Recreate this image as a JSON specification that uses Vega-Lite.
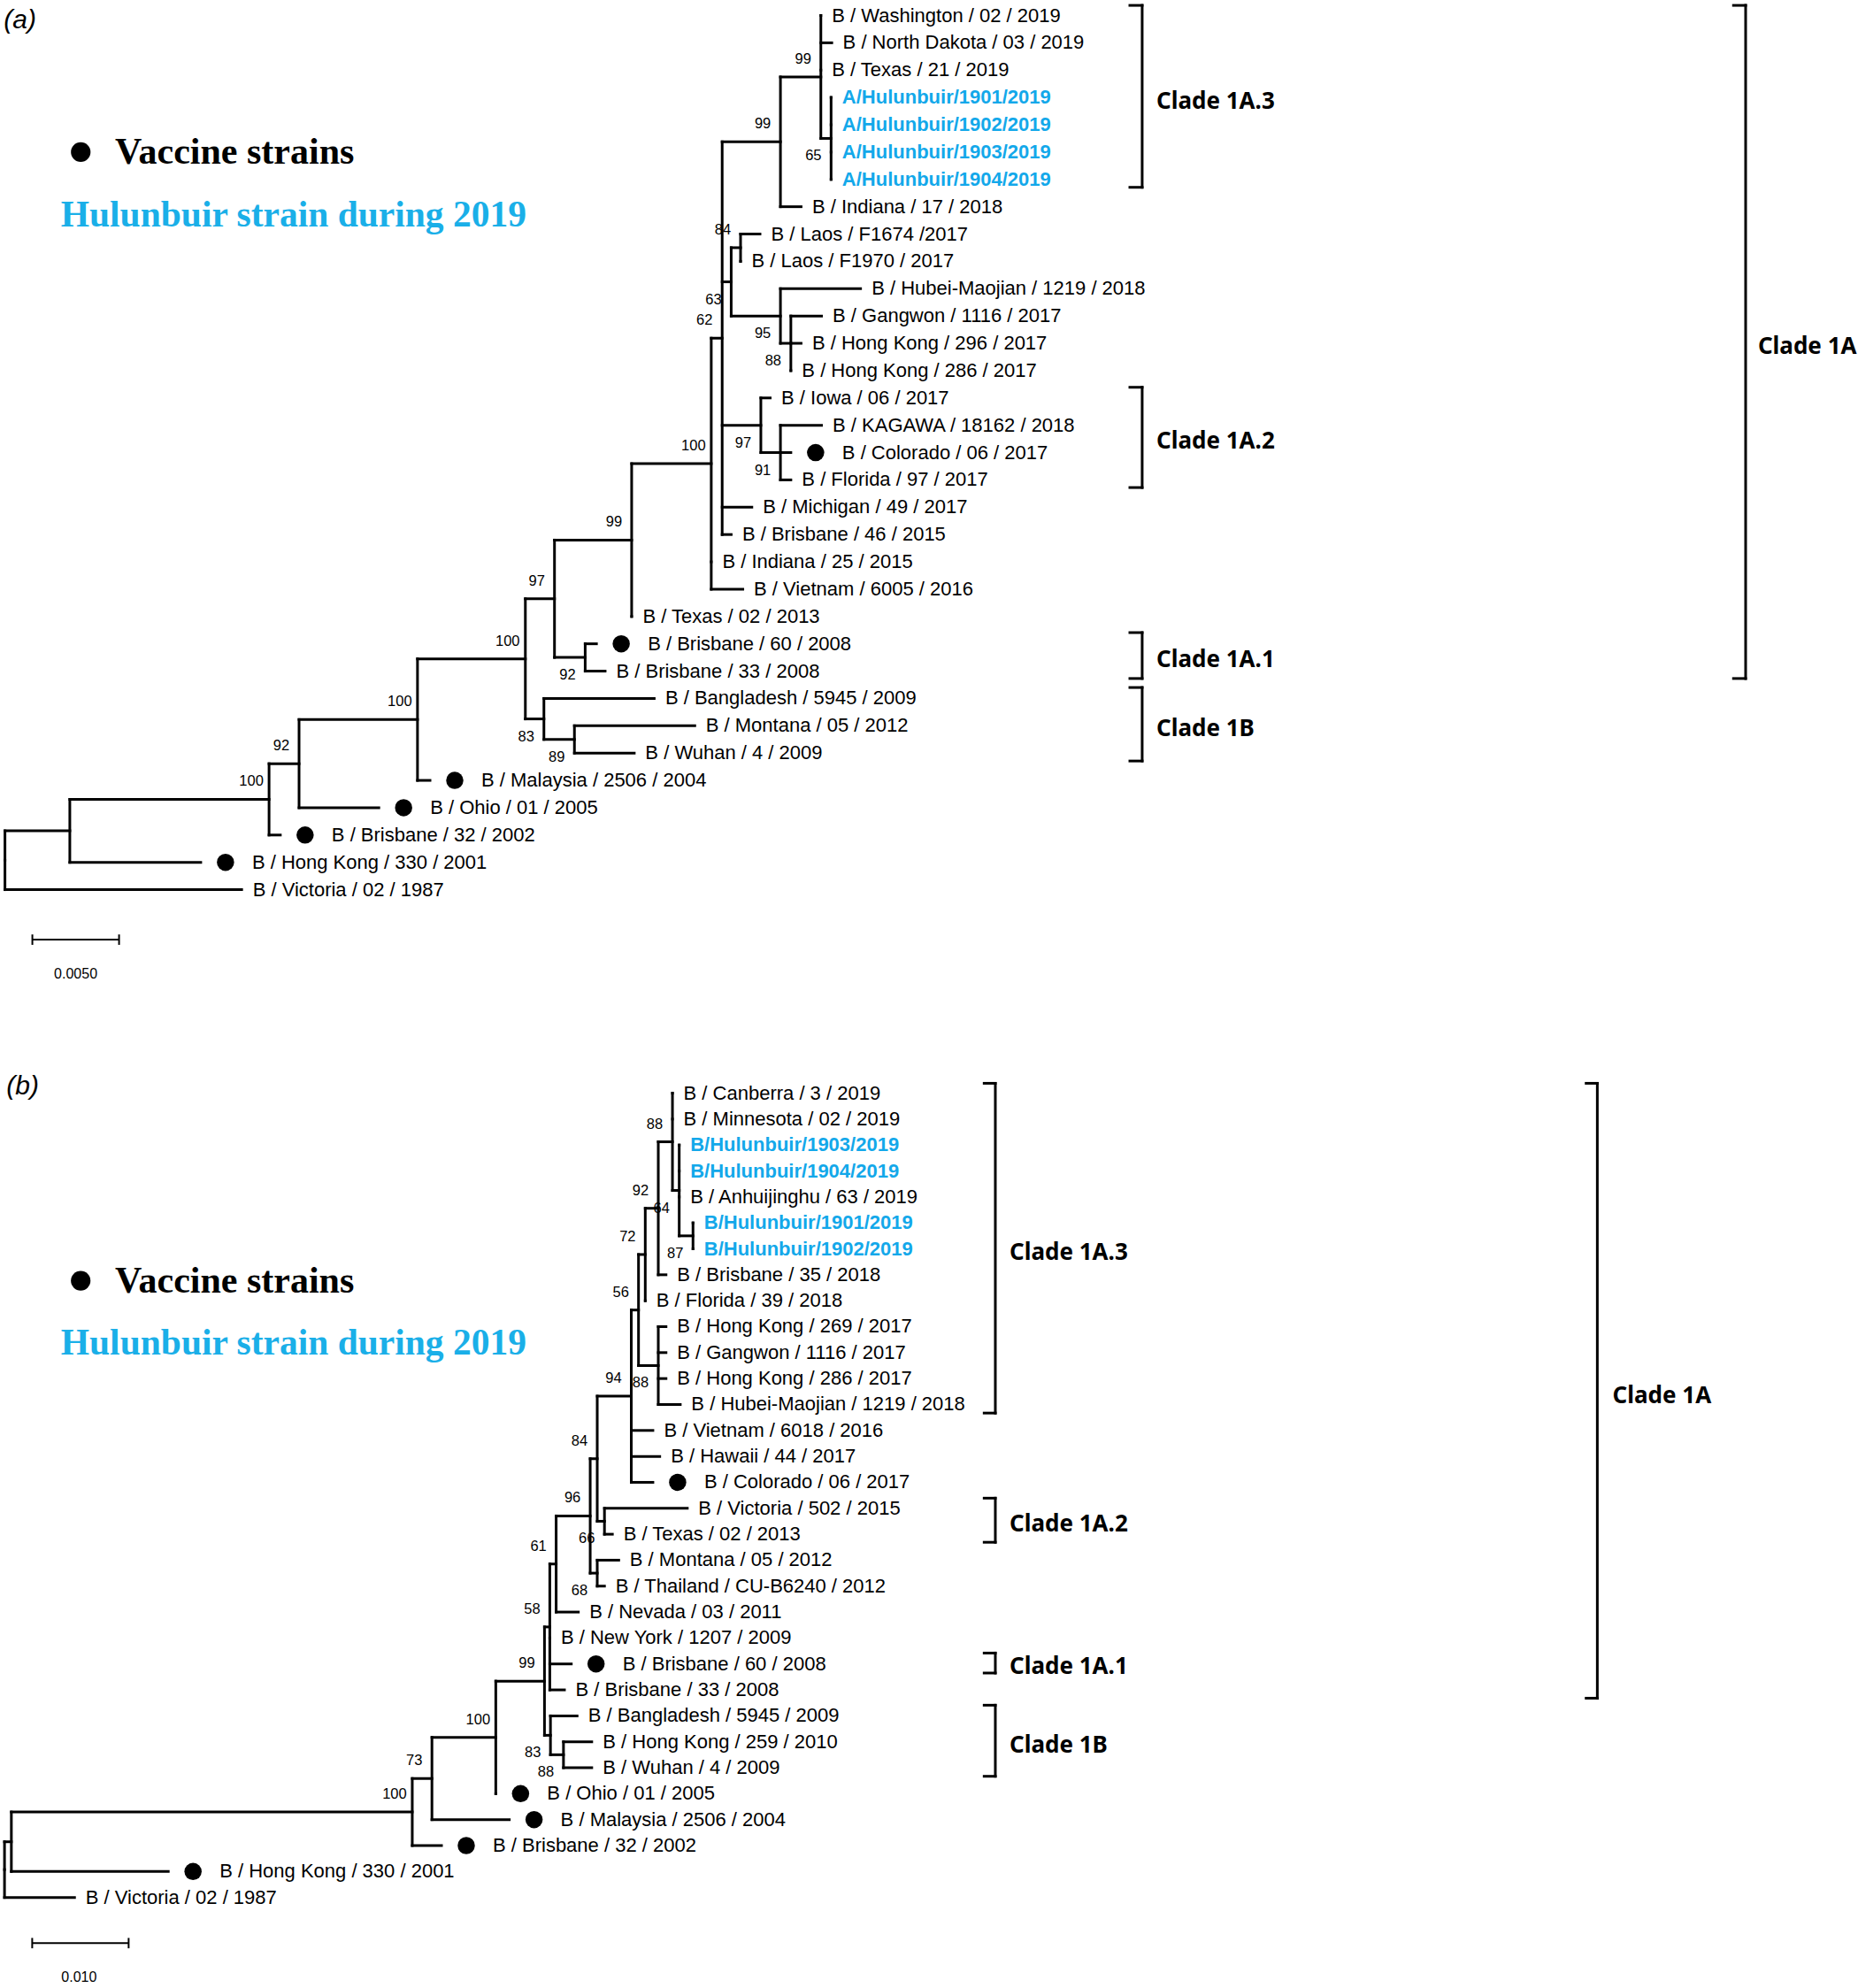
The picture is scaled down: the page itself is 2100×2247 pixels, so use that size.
{
"$schema": "https://vega.github.io/schema/vega-lite/v6.json",
"padding": 0,
"spacing": 0,
"bounds": "flush",
"background": "white",
"config": {"view": {"stroke": null}},
"datasets": {
"nodes": [
{"panel":"a","px":0,"d":0,"y":30.92,"y1":29.847,"y2":32,"boot":"","side":"none"},
{"panel":"a","px":0,"d":3.74,"y":29.847,"y1":28.694,"y2":31,"boot":"","side":"none"},
{"panel":"a","px":3.74,"d":15.23,"y":28.694,"y1":27.388,"y2":30,"boot":"100","side":"above"},
{"panel":"a","px":15.23,"d":16.96,"y":27.388,"y1":25.775,"y2":29,"boot":"92","side":"above"},
{"panel":"a","px":16.96,"d":23.79,"y":25.775,"y1":23.551,"y2":28,"boot":"100","side":"above"},
{"panel":"a","px":23.79,"d":30.01,"y":23.551,"y1":21.352,"y2":25.75,"boot":"100","side":"above"},
{"panel":"a","px":30.01,"d":31.08,"y":25.75,"y1":25,"y2":26.5,"boot":"83","side":"below"},
{"panel":"a","px":31.08,"d":32.84,"y":26.5,"y1":26,"y2":27,"boot":"89","side":"below"},
{"panel":"a","px":30.01,"d":31.69,"y":21.352,"y1":19.203,"y2":23.5,"boot":"97","side":"above"},
{"panel":"a","px":31.69,"d":33.46,"y":23.5,"y1":23,"y2":24,"boot":"92","side":"below"},
{"panel":"a","px":31.69,"d":36.14,"y":19.203,"y1":16.406,"y2":22,"boot":"99","side":"above"},
{"panel":"a","px":36.14,"d":40.73,"y":16.406,"y1":11.8125,"y2":21,"boot":"100","side":"above"},
{"panel":"a","px":40.73,"d":41.36,"y":11.8125,"y1":4.625,"y2":19,"boot":"62","side":"above"},
{"panel":"a","px":41.36,"d":44.72,"y":4.625,"y1":2.25,"y2":7,"boot":"99","side":"above"},
{"panel":"a","px":44.72,"d":47.05,"y":2.25,"y1":0,"y2":4.5,"boot":"99","side":"above"},
{"panel":"a","px":47.05,"d":47.64,"y":4.5,"y1":3,"y2":6,"boot":"65","side":"below"},
{"panel":"a","px":41.36,"d":41.88,"y":9.75,"y1":8.5,"y2":11,"boot":"63","side":"below"},
{"panel":"a","px":41.88,"d":42.42,"y":8.5,"y1":8,"y2":9,"boot":"84","side":"above"},
{"panel":"a","px":41.88,"d":44.72,"y":11,"y1":10,"y2":12,"boot":"95","side":"below"},
{"panel":"a","px":44.72,"d":45.32,"y":12,"y1":11,"y2":13,"boot":"88","side":"below"},
{"panel":"a","px":41.36,"d":43.59,"y":15,"y1":14,"y2":16,"boot":"97","side":"below"},
{"panel":"a","px":43.59,"d":44.72,"y":16,"y1":15,"y2":17,"boot":"91","side":"below"},
{"panel":"b","px":0,"d":0,"y":29.927,"y1":28.854,"y2":31,"boot":"","side":"none"},
{"panel":"b","px":0,"d":0.71,"y":28.854,"y1":27.708,"y2":30,"boot":"","side":"none"},
{"panel":"b","px":0.71,"d":42.28,"y":27.708,"y1":26.416,"y2":29,"boot":"100","side":"above"},
{"panel":"b","px":42.28,"d":44.32,"y":26.416,"y1":24.831,"y2":28,"boot":"73","side":"above"},
{"panel":"b","px":44.32,"d":50.94,"y":24.831,"y1":22.662,"y2":27,"boot":"100","side":"above"},
{"panel":"b","px":50.94,"d":55.99,"y":22.662,"y1":20.574,"y2":24.75,"boot":"99","side":"above"},
{"panel":"b","px":55.99,"d":56.61,"y":24.75,"y1":24,"y2":25.5,"boot":"83","side":"below"},
{"panel":"b","px":56.61,"d":57.96,"y":25.5,"y1":25,"y2":26,"boot":"88","side":"below"},
{"panel":"b","px":55.99,"d":56.54,"y":20.574,"y1":18.148,"y2":23,"boot":"58","side":"above"},
{"panel":"b","px":56.54,"d":57.2,"y":18.148,"y1":16.295,"y2":20,"boot":"61","side":"above"},
{"panel":"b","px":57.2,"d":60.73,"y":16.295,"y1":14.09,"y2":18.5,"boot":"96","side":"above"},
{"panel":"b","px":60.73,"d":61.46,"y":18.5,"y1":18,"y2":19,"boot":"68","side":"below"},
{"panel":"b","px":60.73,"d":61.46,"y":14.09,"y1":11.68,"y2":16.5,"boot":"84","side":"above"},
{"panel":"b","px":61.46,"d":62.21,"y":16.5,"y1":16,"y2":17,"boot":"66","side":"below"},
{"panel":"b","px":61.46,"d":64.99,"y":11.68,"y1":8.359,"y2":15,"boot":"94","side":"above"},
{"panel":"b","px":64.99,"d":65.74,"y":8.359,"y1":6.219,"y2":10.5,"boot":"56","side":"above"},
{"panel":"b","px":65.74,"d":67.79,"y":10.5,"y1":9,"y2":12,"boot":"88","side":"below"},
{"panel":"b","px":65.74,"d":66.44,"y":6.219,"y1":4.4375,"y2":8,"boot":"72","side":"above"},
{"panel":"b","px":66.44,"d":67.79,"y":4.4375,"y1":1.875,"y2":7,"boot":"92","side":"above"},
{"panel":"b","px":67.79,"d":69.26,"y":1.875,"y1":0,"y2":3.75,"boot":"88","side":"above"},
{"panel":"b","px":69.26,"d":69.96,"y":3.75,"y1":2,"y2":5.5,"boot":"64","side":"below"},
{"panel":"b","px":69.96,"d":71.39,"y":5.5,"y1":5,"y2":6,"boot":"87","side":"below"}
],
"leaves": [
{"panel":"a","row":0,"name":"B / Washington / 02 / 2019","px":47.05,"d":47.05,"kind":"ref"},
{"panel":"a","row":1,"name":"B / North Dakota / 03 / 2019","px":47.05,"d":47.68,"kind":"ref"},
{"panel":"a","row":2,"name":"B / Texas / 21 / 2019","px":47.05,"d":47.05,"kind":"ref"},
{"panel":"a","row":3,"name":"A/Hulunbuir/1901/2019","px":47.64,"d":47.64,"kind":"hul"},
{"panel":"a","row":4,"name":"A/Hulunbuir/1902/2019","px":47.64,"d":47.64,"kind":"hul"},
{"panel":"a","row":5,"name":"A/Hulunbuir/1903/2019","px":47.64,"d":47.64,"kind":"hul"},
{"panel":"a","row":6,"name":"A/Hulunbuir/1904/2019","px":47.64,"d":47.64,"kind":"hul"},
{"panel":"a","row":7,"name":"B / Indiana / 17 / 2018","px":44.72,"d":45.91,"kind":"ref"},
{"panel":"a","row":8,"name":"B / Laos / F1674 /2017","px":42.42,"d":43.54,"kind":"ref"},
{"panel":"a","row":9,"name":"B / Laos / F1970 / 2017","px":42.42,"d":42.42,"kind":"ref"},
{"panel":"a","row":10,"name":"B / Hubei-Maojian / 1219 / 2018","px":44.72,"d":49.34,"kind":"ref"},
{"panel":"a","row":11,"name":"B / Gangwon / 1116 / 2017","px":45.32,"d":47.09,"kind":"ref"},
{"panel":"a","row":12,"name":"B / Hong Kong / 296 / 2017","px":45.32,"d":45.91,"kind":"ref"},
{"panel":"a","row":13,"name":"B / Hong Kong / 286 / 2017","px":45.32,"d":45.32,"kind":"ref"},
{"panel":"a","row":14,"name":"B / Iowa / 06 / 2017","px":43.59,"d":44.13,"kind":"ref"},
{"panel":"a","row":15,"name":"B / KAGAWA / 18162 / 2018","px":44.72,"d":47.09,"kind":"ref"},
{"panel":"a","row":16,"name":"B / Colorado / 06 / 2017","px":44.72,"d":45.32,"kind":"vaccine"},
{"panel":"a","row":17,"name":"B / Florida / 97 / 2017","px":44.72,"d":45.32,"kind":"ref"},
{"panel":"a","row":18,"name":"B / Michigan / 49 / 2017","px":41.36,"d":43.07,"kind":"ref"},
{"panel":"a","row":19,"name":"B / Brisbane / 46 / 2015","px":41.36,"d":41.88,"kind":"ref"},
{"panel":"a","row":20,"name":"B / Indiana / 25 / 2015","px":40.73,"d":40.73,"kind":"ref"},
{"panel":"a","row":21,"name":"B / Vietnam / 6005 / 2016","px":40.73,"d":42.55,"kind":"ref"},
{"panel":"a","row":22,"name":"B / Texas / 02 / 2013","px":36.14,"d":36.14,"kind":"ref"},
{"panel":"a","row":23,"name":"B / Brisbane / 60 / 2008","px":33.46,"d":34.11,"kind":"vaccine"},
{"panel":"a","row":24,"name":"B / Brisbane / 33 / 2008","px":33.46,"d":34.61,"kind":"ref"},
{"panel":"a","row":25,"name":"B / Bangladesh / 5945 / 2009","px":31.08,"d":37.44,"kind":"ref"},
{"panel":"a","row":26,"name":"B / Montana / 05 / 2012","px":32.84,"d":39.78,"kind":"ref"},
{"panel":"a","row":27,"name":"B / Wuhan / 4 / 2009","px":32.84,"d":36.29,"kind":"ref"},
{"panel":"a","row":28,"name":"B / Malaysia / 2506 / 2004","px":23.79,"d":24.51,"kind":"vaccine"},
{"panel":"a","row":29,"name":"B / Ohio / 01 / 2005","px":16.96,"d":21.56,"kind":"vaccine"},
{"panel":"a","row":30,"name":"B / Brisbane / 32 / 2002","px":15.23,"d":15.88,"kind":"vaccine"},
{"panel":"a","row":31,"name":"B / Hong Kong / 330 / 2001","px":3.74,"d":11.29,"kind":"vaccine"},
{"panel":"a","row":32,"name":"B / Victoria / 02 / 1987","px":0,"d":13.65,"kind":"ref"},
{"panel":"b","row":0,"name":"B / Canberra / 3 / 2019","px":69.26,"d":69.26,"kind":"ref"},
{"panel":"b","row":1,"name":"B / Minnesota / 02 / 2019","px":69.26,"d":69.26,"kind":"ref"},
{"panel":"b","row":2,"name":"B/Hulunbuir/1903/2019","px":69.96,"d":69.96,"kind":"hul"},
{"panel":"b","row":3,"name":"B/Hulunbuir/1904/2019","px":69.96,"d":69.96,"kind":"hul"},
{"panel":"b","row":4,"name":"B / Anhuijinghu / 63 / 2019","px":69.96,"d":69.96,"kind":"ref"},
{"panel":"b","row":5,"name":"B/Hulunbuir/1901/2019","px":71.39,"d":71.39,"kind":"hul"},
{"panel":"b","row":6,"name":"B/Hulunbuir/1902/2019","px":71.39,"d":71.39,"kind":"hul"},
{"panel":"b","row":7,"name":"B / Brisbane / 35 / 2018","px":67.79,"d":68.59,"kind":"ref"},
{"panel":"b","row":8,"name":"B / Florida / 39 / 2018","px":66.44,"d":66.44,"kind":"ref"},
{"panel":"b","row":9,"name":"B / Hong Kong / 269 / 2017","px":67.79,"d":68.59,"kind":"ref"},
{"panel":"b","row":10,"name":"B / Gangwon / 1116 / 2017","px":67.79,"d":68.59,"kind":"ref"},
{"panel":"b","row":11,"name":"B / Hong Kong / 286 / 2017","px":67.79,"d":68.59,"kind":"ref"},
{"panel":"b","row":12,"name":"B / Hubei-Maojian / 1219 / 2018","px":67.79,"d":70.07,"kind":"ref"},
{"panel":"b","row":13,"name":"B / Vietnam / 6018 / 2016","px":64.99,"d":67.23,"kind":"ref"},
{"panel":"b","row":14,"name":"B / Hawaii / 44 / 2017","px":64.99,"d":67.94,"kind":"ref"},
{"panel":"b","row":15,"name":"B / Colorado / 06 / 2017","px":64.99,"d":67.23,"kind":"vaccine"},
{"panel":"b","row":16,"name":"B / Victoria / 502 / 2015","px":62.21,"d":70.8,"kind":"ref"},
{"panel":"b","row":17,"name":"B / Texas / 02 / 2013","px":62.21,"d":63.03,"kind":"ref"},
{"panel":"b","row":18,"name":"B / Montana / 05 / 2012","px":61.46,"d":63.69,"kind":"ref"},
{"panel":"b","row":19,"name":"B / Thailand / CU-B6240 / 2012","px":61.46,"d":62.21,"kind":"ref"},
{"panel":"b","row":20,"name":"B / Nevada / 03 / 2011","px":57.2,"d":59.5,"kind":"ref"},
{"panel":"b","row":21,"name":"B / New York / 1207 / 2009","px":56.54,"d":56.54,"kind":"ref"},
{"panel":"b","row":22,"name":"B / Brisbane / 60 / 2008","px":56.54,"d":58.77,"kind":"vaccine"},
{"panel":"b","row":23,"name":"B / Brisbane / 33 / 2008","px":56.54,"d":58.06,"kind":"ref"},
{"panel":"b","row":24,"name":"B / Bangladesh / 5945 / 2009","px":56.61,"d":59.37,"kind":"ref"},
{"panel":"b","row":25,"name":"B / Hong Kong / 259 / 2010","px":57.96,"d":60.89,"kind":"ref"},
{"panel":"b","row":26,"name":"B / Wuhan / 4 / 2009","px":57.96,"d":60.89,"kind":"ref"},
{"panel":"b","row":27,"name":"B / Ohio / 01 / 2005","px":50.94,"d":50.94,"kind":"vaccine"},
{"panel":"b","row":28,"name":"B / Malaysia / 2506 / 2004","px":44.32,"d":52.34,"kind":"vaccine"},
{"panel":"b","row":29,"name":"B / Brisbane / 32 / 2002","px":42.28,"d":45.31,"kind":"vaccine"},
{"panel":"b","row":30,"name":"B / Hong Kong / 330 / 2001","px":0.71,"d":16.98,"kind":"vaccine"},
{"panel":"b","row":31,"name":"B / Victoria / 02 / 1987","px":0,"d":7.26,"kind":"ref"}
],
"clades": [
{"panel":"a","label":"Clade 1A.3","xb":65.58,"xt":64.87,"y1":-0.37,"y2":6.29,"lx":66.4,"ly":3.15},
{"panel":"a","label":"Clade 1A.2","xb":65.58,"xt":64.87,"y1":13.61,"y2":17.28,"lx":66.4,"ly":15.6},
{"panel":"a","label":"Clade 1A.1","xb":65.58,"xt":64.87,"y1":22.59,"y2":24.27,"lx":66.4,"ly":23.6},
{"panel":"a","label":"Clade 1B","xb":65.58,"xt":64.87,"y1":24.6,"y2":27.29,"lx":66.4,"ly":26.12},
{"panel":"a","label":"Clade 1A","xb":100.38,"xt":99.68,"y1":-0.37,"y2":24.27,"lx":101.09,"ly":12.12},
{"panel":"b","label":"Clade 1A.3","xb":102.74,"xt":101.58,"y1":-0.38,"y2":12.33,"lx":104.21,"ly":6.15},
{"panel":"b","label":"Clade 1A.2","xb":102.74,"xt":101.58,"y1":15.61,"y2":17.31,"lx":104.21,"ly":16.62},
{"panel":"b","label":"Clade 1A.1","xb":102.74,"xt":101.58,"y1":21.58,"y2":22.35,"lx":104.21,"ly":22.11},
{"panel":"b","label":"Clade 1B","xb":102.74,"xt":101.58,"y1":23.59,"y2":26.33,"lx":104.21,"ly":25.13},
{"panel":"b","label":"Clade 1A","xb":165.16,"xt":164.0,"y1":-0.38,"y2":23.32,"lx":166.74,"ly":11.67}
],
"bars": [
{"panel":"a","x":1.58,"x2":6.58,"y":33.83,"y2":33.83},
{"panel":"a","x":1.58,"x2":1.58,"y":33.64,"y2":34.02},
{"panel":"a","x":6.58,"x2":6.58,"y":33.64,"y2":34.02},
{"panel":"b","x":2.87,"x2":12.87,"y":32.76,"y2":32.76},
{"panel":"b","x":2.87,"x2":2.87,"y":32.56,"y2":32.96},
{"panel":"b","x":12.87,"x2":12.87,"y":32.56,"y2":32.96}
],
"notes": [
{"panel":"a","role":"tag","text":"(a)","x":-0.07,"y":0.19},
{"panel":"a","role":"legend","text":"Vaccine strains","x":6.35,"y":5.0},
{"panel":"a","role":"legendHul","text":"Hulunbuir strain during 2019","x":3.22,"y":7.34},
{"panel":"a","role":"dot","text":"","x":4.37,"y":5.0},
{"panel":"a","role":"scale","text":"0.0050","x":4.08,"y":35.09},
{"panel":"b","role":"tag","text":"(b)","x":0.2,"y":-0.26},
{"panel":"b","role":"legend","text":"Vaccine strains","x":11.46,"y":7.23},
{"panel":"b","role":"legendHul","text":"Hulunbuir strain during 2019","x":5.84,"y":9.68},
{"panel":"b","role":"dot","text":"","x":7.9,"y":7.23},
{"panel":"b","role":"scale","text":"0.010","x":7.73,"y":34.09}
]
},
"vconcat": [
{
"width": 2100, "height": 1130,
"layer": [
{"data":{"name":"nodes"},"transform":[{"filter":"datum.panel=='a'"}],"mark":{"type":"rule","strokeWidth":3,"color":"#000","strokeCap":"square"},
 "encoding":{"x":{"field":"d","type":"quantitative","scale":{"domain":[-0.286,106.86],"nice":false,"zero":false},"axis":null},"y":{"field":"y1","type":"quantitative","scale":{"domain":[-0.567,36.03],"nice":false,"zero":false,"reverse":true},"axis":null},"y2":{"field":"y2"}}},
{"data":{"name":"nodes"},"transform":[{"filter":"datum.panel=='a'"}],"mark":{"type":"rule","strokeWidth":3,"color":"#000","strokeCap":"square"},
 "encoding":{"x":{"field":"px","type":"quantitative","scale":{"domain":[-0.286,106.86],"nice":false,"zero":false},"axis":null},"x2":{"field":"d"},"y":{"field":"y","type":"quantitative","scale":{"domain":[-0.567,36.03],"nice":false,"zero":false,"reverse":true},"axis":null}}},
{"data":{"name":"leaves"},"transform":[{"filter":"datum.panel=='a'"}],"mark":{"type":"rule","strokeWidth":3,"color":"#000","strokeCap":"square"},
 "encoding":{"x":{"field":"px","type":"quantitative","scale":{"domain":[-0.286,106.86],"nice":false,"zero":false},"axis":null},"x2":{"field":"d"},"y":{"field":"row","type":"quantitative","scale":{"domain":[-0.567,36.03],"nice":false,"zero":false,"reverse":true},"axis":null}}},
{"data":{"name":"nodes"},"transform":[{"filter":"datum.panel=='a' && datum.side=='above'"}],"mark":{"type":"text","font":"Liberation Sans","fontSize":16.5,"color":"#000","align":"center","baseline":"middle","dx":-20,"dy":-20},
 "encoding":{"x":{"field":"d","type":"quantitative","scale":{"domain":[-0.286,106.86],"nice":false,"zero":false},"axis":null},"y":{"field":"y","type":"quantitative","scale":{"domain":[-0.567,36.03],"nice":false,"zero":false,"reverse":true},"axis":null},"text":{"field":"boot"}}},
{"data":{"name":"nodes"},"transform":[{"filter":"datum.panel=='a' && datum.side=='below'"}],"mark":{"type":"text","font":"Liberation Sans","fontSize":16.5,"color":"#000","align":"center","baseline":"middle","dx":-20,"dy":20},
 "encoding":{"x":{"field":"d","type":"quantitative","scale":{"domain":[-0.286,106.86],"nice":false,"zero":false},"axis":null},"y":{"field":"y","type":"quantitative","scale":{"domain":[-0.567,36.03],"nice":false,"zero":false,"reverse":true},"axis":null},"text":{"field":"boot"}}},
{"data":{"name":"leaves"},"transform":[{"filter":"datum.panel=='a' && datum.kind=='ref'"}],"mark":{"type":"text","font":"Liberation Sans","fontSize":22,"color":"#000","align":"left","baseline":"middle","dx":12.5},
 "encoding":{"x":{"field":"d","type":"quantitative","scale":{"domain":[-0.286,106.86],"nice":false,"zero":false},"axis":null},"y":{"field":"row","type":"quantitative","scale":{"domain":[-0.567,36.03],"nice":false,"zero":false,"reverse":true},"axis":null},"text":{"field":"name"}}},
{"data":{"name":"leaves"},"transform":[{"filter":"datum.panel=='a' && datum.kind=='vaccine'"}],"mark":{"type":"text","font":"Liberation Sans","fontSize":22,"color":"#000","align":"left","baseline":"middle","dx":58},
 "encoding":{"x":{"field":"d","type":"quantitative","scale":{"domain":[-0.286,106.86],"nice":false,"zero":false},"axis":null},"y":{"field":"row","type":"quantitative","scale":{"domain":[-0.567,36.03],"nice":false,"zero":false,"reverse":true},"axis":null},"text":{"field":"name"}}},
{"data":{"name":"leaves"},"transform":[{"filter":"datum.panel=='a' && datum.kind=='vaccine'"}],"mark":{"type":"point","shape":"circle","filled":true,"size":380,"color":"#000","opacity":1,"xOffset":28},
 "encoding":{"x":{"field":"d","type":"quantitative","scale":{"domain":[-0.286,106.86],"nice":false,"zero":false},"axis":null},"y":{"field":"row","type":"quantitative","scale":{"domain":[-0.567,36.03],"nice":false,"zero":false,"reverse":true},"axis":null}}},
{"data":{"name":"leaves"},"transform":[{"filter":"datum.panel=='a' && datum.kind=='hul'"}],"mark":{"type":"text","font":"Liberation Sans","fontSize":22,"fontWeight":"bold","color":"#13A8EA","align":"left","baseline":"middle","dx":12.5},
 "encoding":{"x":{"field":"d","type":"quantitative","scale":{"domain":[-0.286,106.86],"nice":false,"zero":false},"axis":null},"y":{"field":"row","type":"quantitative","scale":{"domain":[-0.567,36.03],"nice":false,"zero":false,"reverse":true},"axis":null},"text":{"field":"name"}}},
{"data":{"name":"clades"},"transform":[{"filter":"datum.panel=='a'"}],"mark":{"type":"rule","strokeWidth":3,"color":"#000","strokeCap":"square"},
 "encoding":{"x":{"field":"xb","type":"quantitative","scale":{"domain":[-0.286,106.86],"nice":false,"zero":false},"axis":null},"y":{"field":"y1","type":"quantitative","scale":{"domain":[-0.567,36.03],"nice":false,"zero":false,"reverse":true},"axis":null},"y2":{"field":"y2"}}},
{"data":{"name":"clades"},"transform":[{"filter":"datum.panel=='a'"}],"mark":{"type":"rule","strokeWidth":3,"color":"#000","strokeCap":"square"},
 "encoding":{"x":{"field":"xt","type":"quantitative","scale":{"domain":[-0.286,106.86],"nice":false,"zero":false},"axis":null},"x2":{"field":"xb"},"y":{"field":"y1","type":"quantitative","scale":{"domain":[-0.567,36.03],"nice":false,"zero":false,"reverse":true},"axis":null}}},
{"data":{"name":"clades"},"transform":[{"filter":"datum.panel=='a'"}],"mark":{"type":"rule","strokeWidth":3,"color":"#000","strokeCap":"square"},
 "encoding":{"x":{"field":"xt","type":"quantitative","scale":{"domain":[-0.286,106.86],"nice":false,"zero":false},"axis":null},"x2":{"field":"xb"},"y":{"field":"y2","type":"quantitative","scale":{"domain":[-0.567,36.03],"nice":false,"zero":false,"reverse":true},"axis":null}}},
{"data":{"name":"clades"},"transform":[{"filter":"datum.panel=='a'"}],"mark":{"type":"text","font":"Noto Sans","fontSize":26,"fontWeight":"bold","color":"#000","align":"left","baseline":"middle"},
 "encoding":{"x":{"field":"lx","type":"quantitative","scale":{"domain":[-0.286,106.86],"nice":false,"zero":false},"axis":null},"y":{"field":"ly","type":"quantitative","scale":{"domain":[-0.567,36.03],"nice":false,"zero":false,"reverse":true},"axis":null},"text":{"field":"label"}}},
{"data":{"name":"bars"},"transform":[{"filter":"datum.panel=='a'"}],"mark":{"type":"rule","strokeWidth":2,"color":"#000"},
 "encoding":{"x":{"field":"x","type":"quantitative","scale":{"domain":[-0.286,106.86],"nice":false,"zero":false},"axis":null},"x2":{"field":"x2"},"y":{"field":"y","type":"quantitative","scale":{"domain":[-0.567,36.03],"nice":false,"zero":false,"reverse":true},"axis":null},"y2":{"field":"y2"}}},
{"data":{"name":"notes"},"transform":[{"filter":"datum.panel=='a' && datum.role=='tag'"}],"mark":{"type":"text","font":"Liberation Sans","fontSize":30,"fontStyle":"italic","color":"#000","align":"left","baseline":"middle"},
 "encoding":{"x":{"field":"x","type":"quantitative","scale":{"domain":[-0.286,106.86],"nice":false,"zero":false},"axis":null},"y":{"field":"y","type":"quantitative","scale":{"domain":[-0.567,36.03],"nice":false,"zero":false,"reverse":true},"axis":null},"text":{"field":"text"}}},
{"data":{"name":"notes"},"transform":[{"filter":"datum.panel=='a' && datum.role=='legend'"}],"mark":{"type":"text","font":"Liberation Serif","fontSize":42,"fontWeight":"bold","color":"#000","align":"left","baseline":"middle"},
 "encoding":{"x":{"field":"x","type":"quantitative","scale":{"domain":[-0.286,106.86],"nice":false,"zero":false},"axis":null},"y":{"field":"y","type":"quantitative","scale":{"domain":[-0.567,36.03],"nice":false,"zero":false,"reverse":true},"axis":null},"text":{"field":"text"}}},
{"data":{"name":"notes"},"transform":[{"filter":"datum.panel=='a' && datum.role=='legendHul'"}],"mark":{"type":"text","font":"Liberation Serif","fontSize":41.5,"fontWeight":"bold","color":"#1AAFE8","align":"left","baseline":"middle"},
 "encoding":{"x":{"field":"x","type":"quantitative","scale":{"domain":[-0.286,106.86],"nice":false,"zero":false},"axis":null},"y":{"field":"y","type":"quantitative","scale":{"domain":[-0.567,36.03],"nice":false,"zero":false,"reverse":true},"axis":null},"text":{"field":"text"}}},
{"data":{"name":"notes"},"transform":[{"filter":"datum.panel=='a' && datum.role=='dot'"}],"mark":{"type":"point","shape":"circle","filled":true,"size":490,"color":"#000","opacity":1},
 "encoding":{"x":{"field":"x","type":"quantitative","scale":{"domain":[-0.286,106.86],"nice":false,"zero":false},"axis":null},"y":{"field":"y","type":"quantitative","scale":{"domain":[-0.567,36.03],"nice":false,"zero":false,"reverse":true},"axis":null}}},
{"data":{"name":"notes"},"transform":[{"filter":"datum.panel=='a' && datum.role=='scale'"}],"mark":{"type":"text","font":"Liberation Sans","fontSize":16,"color":"#000","align":"center","baseline":"middle"},
 "encoding":{"x":{"field":"x","type":"quantitative","scale":{"domain":[-0.286,106.86],"nice":false,"zero":false},"axis":null},"y":{"field":"y","type":"quantitative","scale":{"domain":[-0.567,36.03],"nice":false,"zero":false,"reverse":true},"axis":null},"text":{"field":"text"}}}
]
},
{
"width": 2100, "height": 1117,
"layer": [
{"data":{"name":"nodes"},"transform":[{"filter":"datum.panel=='b'"}],"mark":{"type":"rule","strokeWidth":3,"color":"#000","strokeCap":"square"},
 "encoding":{"x":{"field":"d","type":"quantitative","scale":{"domain":[-0.468,192.19],"nice":false,"zero":false},"axis":null},"y":{"field":"y1","type":"quantitative","scale":{"domain":[-3.6,34.49],"nice":false,"zero":false,"reverse":true},"axis":null},"y2":{"field":"y2"}}},
{"data":{"name":"nodes"},"transform":[{"filter":"datum.panel=='b'"}],"mark":{"type":"rule","strokeWidth":3,"color":"#000","strokeCap":"square"},
 "encoding":{"x":{"field":"px","type":"quantitative","scale":{"domain":[-0.468,192.19],"nice":false,"zero":false},"axis":null},"x2":{"field":"d"},"y":{"field":"y","type":"quantitative","scale":{"domain":[-3.6,34.49],"nice":false,"zero":false,"reverse":true},"axis":null}}},
{"data":{"name":"leaves"},"transform":[{"filter":"datum.panel=='b'"}],"mark":{"type":"rule","strokeWidth":3,"color":"#000","strokeCap":"square"},
 "encoding":{"x":{"field":"px","type":"quantitative","scale":{"domain":[-0.468,192.19],"nice":false,"zero":false},"axis":null},"x2":{"field":"d"},"y":{"field":"row","type":"quantitative","scale":{"domain":[-3.6,34.49],"nice":false,"zero":false,"reverse":true},"axis":null}}},
{"data":{"name":"nodes"},"transform":[{"filter":"datum.panel=='b' && datum.side=='above'"}],"mark":{"type":"text","font":"Liberation Sans","fontSize":16.5,"color":"#000","align":"center","baseline":"middle","dx":-20,"dy":-20},
 "encoding":{"x":{"field":"d","type":"quantitative","scale":{"domain":[-0.468,192.19],"nice":false,"zero":false},"axis":null},"y":{"field":"y","type":"quantitative","scale":{"domain":[-3.6,34.49],"nice":false,"zero":false,"reverse":true},"axis":null},"text":{"field":"boot"}}},
{"data":{"name":"nodes"},"transform":[{"filter":"datum.panel=='b' && datum.side=='below'"}],"mark":{"type":"text","font":"Liberation Sans","fontSize":16.5,"color":"#000","align":"center","baseline":"middle","dx":-20,"dy":20},
 "encoding":{"x":{"field":"d","type":"quantitative","scale":{"domain":[-0.468,192.19],"nice":false,"zero":false},"axis":null},"y":{"field":"y","type":"quantitative","scale":{"domain":[-3.6,34.49],"nice":false,"zero":false,"reverse":true},"axis":null},"text":{"field":"boot"}}},
{"data":{"name":"leaves"},"transform":[{"filter":"datum.panel=='b' && datum.kind=='ref'"}],"mark":{"type":"text","font":"Liberation Sans","fontSize":22,"color":"#000","align":"left","baseline":"middle","dx":12.5},
 "encoding":{"x":{"field":"d","type":"quantitative","scale":{"domain":[-0.468,192.19],"nice":false,"zero":false},"axis":null},"y":{"field":"row","type":"quantitative","scale":{"domain":[-3.6,34.49],"nice":false,"zero":false,"reverse":true},"axis":null},"text":{"field":"name"}}},
{"data":{"name":"leaves"},"transform":[{"filter":"datum.panel=='b' && datum.kind=='vaccine'"}],"mark":{"type":"text","font":"Liberation Sans","fontSize":22,"color":"#000","align":"left","baseline":"middle","dx":58},
 "encoding":{"x":{"field":"d","type":"quantitative","scale":{"domain":[-0.468,192.19],"nice":false,"zero":false},"axis":null},"y":{"field":"row","type":"quantitative","scale":{"domain":[-3.6,34.49],"nice":false,"zero":false,"reverse":true},"axis":null},"text":{"field":"name"}}},
{"data":{"name":"leaves"},"transform":[{"filter":"datum.panel=='b' && datum.kind=='vaccine'"}],"mark":{"type":"point","shape":"circle","filled":true,"size":380,"color":"#000","opacity":1,"xOffset":28},
 "encoding":{"x":{"field":"d","type":"quantitative","scale":{"domain":[-0.468,192.19],"nice":false,"zero":false},"axis":null},"y":{"field":"row","type":"quantitative","scale":{"domain":[-3.6,34.49],"nice":false,"zero":false,"reverse":true},"axis":null}}},
{"data":{"name":"leaves"},"transform":[{"filter":"datum.panel=='b' && datum.kind=='hul'"}],"mark":{"type":"text","font":"Liberation Sans","fontSize":22,"fontWeight":"bold","color":"#13A8EA","align":"left","baseline":"middle","dx":12.5},
 "encoding":{"x":{"field":"d","type":"quantitative","scale":{"domain":[-0.468,192.19],"nice":false,"zero":false},"axis":null},"y":{"field":"row","type":"quantitative","scale":{"domain":[-3.6,34.49],"nice":false,"zero":false,"reverse":true},"axis":null},"text":{"field":"name"}}},
{"data":{"name":"clades"},"transform":[{"filter":"datum.panel=='b'"}],"mark":{"type":"rule","strokeWidth":3,"color":"#000","strokeCap":"square"},
 "encoding":{"x":{"field":"xb","type":"quantitative","scale":{"domain":[-0.468,192.19],"nice":false,"zero":false},"axis":null},"y":{"field":"y1","type":"quantitative","scale":{"domain":[-3.6,34.49],"nice":false,"zero":false,"reverse":true},"axis":null},"y2":{"field":"y2"}}},
{"data":{"name":"clades"},"transform":[{"filter":"datum.panel=='b'"}],"mark":{"type":"rule","strokeWidth":3,"color":"#000","strokeCap":"square"},
 "encoding":{"x":{"field":"xt","type":"quantitative","scale":{"domain":[-0.468,192.19],"nice":false,"zero":false},"axis":null},"x2":{"field":"xb"},"y":{"field":"y1","type":"quantitative","scale":{"domain":[-3.6,34.49],"nice":false,"zero":false,"reverse":true},"axis":null}}},
{"data":{"name":"clades"},"transform":[{"filter":"datum.panel=='b'"}],"mark":{"type":"rule","strokeWidth":3,"color":"#000","strokeCap":"square"},
 "encoding":{"x":{"field":"xt","type":"quantitative","scale":{"domain":[-0.468,192.19],"nice":false,"zero":false},"axis":null},"x2":{"field":"xb"},"y":{"field":"y2","type":"quantitative","scale":{"domain":[-3.6,34.49],"nice":false,"zero":false,"reverse":true},"axis":null}}},
{"data":{"name":"clades"},"transform":[{"filter":"datum.panel=='b'"}],"mark":{"type":"text","font":"Noto Sans","fontSize":26,"fontWeight":"bold","color":"#000","align":"left","baseline":"middle"},
 "encoding":{"x":{"field":"lx","type":"quantitative","scale":{"domain":[-0.468,192.19],"nice":false,"zero":false},"axis":null},"y":{"field":"ly","type":"quantitative","scale":{"domain":[-3.6,34.49],"nice":false,"zero":false,"reverse":true},"axis":null},"text":{"field":"label"}}},
{"data":{"name":"bars"},"transform":[{"filter":"datum.panel=='b'"}],"mark":{"type":"rule","strokeWidth":2,"color":"#000"},
 "encoding":{"x":{"field":"x","type":"quantitative","scale":{"domain":[-0.468,192.19],"nice":false,"zero":false},"axis":null},"x2":{"field":"x2"},"y":{"field":"y","type":"quantitative","scale":{"domain":[-3.6,34.49],"nice":false,"zero":false,"reverse":true},"axis":null},"y2":{"field":"y2"}}},
{"data":{"name":"notes"},"transform":[{"filter":"datum.panel=='b' && datum.role=='tag'"}],"mark":{"type":"text","font":"Liberation Sans","fontSize":30,"fontStyle":"italic","color":"#000","align":"left","baseline":"middle"},
 "encoding":{"x":{"field":"x","type":"quantitative","scale":{"domain":[-0.468,192.19],"nice":false,"zero":false},"axis":null},"y":{"field":"y","type":"quantitative","scale":{"domain":[-3.6,34.49],"nice":false,"zero":false,"reverse":true},"axis":null},"text":{"field":"text"}}},
{"data":{"name":"notes"},"transform":[{"filter":"datum.panel=='b' && datum.role=='legend'"}],"mark":{"type":"text","font":"Liberation Serif","fontSize":42,"fontWeight":"bold","color":"#000","align":"left","baseline":"middle"},
 "encoding":{"x":{"field":"x","type":"quantitative","scale":{"domain":[-0.468,192.19],"nice":false,"zero":false},"axis":null},"y":{"field":"y","type":"quantitative","scale":{"domain":[-3.6,34.49],"nice":false,"zero":false,"reverse":true},"axis":null},"text":{"field":"text"}}},
{"data":{"name":"notes"},"transform":[{"filter":"datum.panel=='b' && datum.role=='legendHul'"}],"mark":{"type":"text","font":"Liberation Serif","fontSize":41.5,"fontWeight":"bold","color":"#1AAFE8","align":"left","baseline":"middle"},
 "encoding":{"x":{"field":"x","type":"quantitative","scale":{"domain":[-0.468,192.19],"nice":false,"zero":false},"axis":null},"y":{"field":"y","type":"quantitative","scale":{"domain":[-3.6,34.49],"nice":false,"zero":false,"reverse":true},"axis":null},"text":{"field":"text"}}},
{"data":{"name":"notes"},"transform":[{"filter":"datum.panel=='b' && datum.role=='dot'"}],"mark":{"type":"point","shape":"circle","filled":true,"size":490,"color":"#000","opacity":1},
 "encoding":{"x":{"field":"x","type":"quantitative","scale":{"domain":[-0.468,192.19],"nice":false,"zero":false},"axis":null},"y":{"field":"y","type":"quantitative","scale":{"domain":[-3.6,34.49],"nice":false,"zero":false,"reverse":true},"axis":null}}},
{"data":{"name":"notes"},"transform":[{"filter":"datum.panel=='b' && datum.role=='scale'"}],"mark":{"type":"text","font":"Liberation Sans","fontSize":16,"color":"#000","align":"center","baseline":"middle"},
 "encoding":{"x":{"field":"x","type":"quantitative","scale":{"domain":[-0.468,192.19],"nice":false,"zero":false},"axis":null},"y":{"field":"y","type":"quantitative","scale":{"domain":[-3.6,34.49],"nice":false,"zero":false,"reverse":true},"axis":null},"text":{"field":"text"}}}
]
}
],
"resolve": {"scale": {"x": "independent", "y": "independent"}}
}
